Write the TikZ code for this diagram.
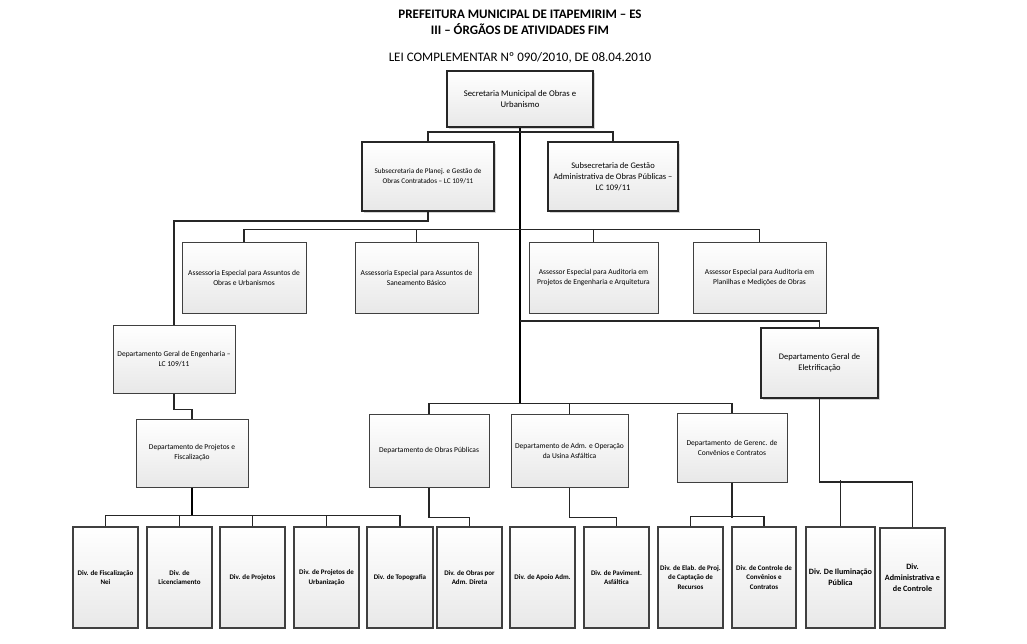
\documentclass[tikz,border=0pt]{standalone}
\usepackage{fontspec}
\setmainfont{Carlito}
\usetikzlibrary{shadows}
\tikzset{
  box/.style={draw=black!75, line width=1pt, top color=white, bottom color=black!9,
    inner sep=1pt, align=center, font=\fontsize{7.5}{10}\selectfont},
  bigbox/.style={box, draw=black!85, line width=2pt, drop shadow={shadow xshift=1.5pt, shadow yshift=-1.5pt, opacity=.35},
    font=\fontsize{8}{10.5}\selectfont},
  divbox/.style={box, line width=1.3pt, font=\bfseries\fontsize{7}{9.5}\selectfont},
  conn/.style={draw=black!85, line width=1.2pt},
  trunk/.style={draw=black, line width=2pt},
  title/.style={font=\bfseries\fontsize{13}{14}\selectfont, inner sep=0pt}
}
\begin{document}
\begin{tikzpicture}[x=1pt,y=-1pt]
\useasboundingbox (0,0) rectangle (1027,643);
% titles
\node[title] (t1) at (520,14) {PREFEITURA MUNICIPAL DE ITAPEMIRIM – ES};
\node[title] (t2) at (520,29) {III – ÓRGÃOS DE ATIVIDADES FIM};
\node[font=\fontsize{13}{15}\selectfont, inner sep=0pt] (t3) at (520,58) {LEI COMPLEMENTAR Nº 090/2010, DE 08.04.2010};

% top
\node[bigbox, minimum width=146pt, minimum height=56pt, font=\fontsize{8.7}{11}\selectfont] (sec) at (520,99) {Secretaria Municipal de Obras e\\Urbanismo};
\node[bigbox, minimum width=132pt, minimum height=69pt, font=\fontsize{7.2}{10}\selectfont] (subA) at (428,176.5) {Subsecretaria de Planej. e Gestão de\\Obras Contratados – LC 109/11};
\node[bigbox, minimum width=130pt, minimum height=69pt, font=\fontsize{8.5}{11}\selectfont] (subB) at (613,176.5) {Subsecretaria de Gestão\\Administrativa de Obras Públicas –\\LC 109/11};

% assessorias
\node[box, minimum width=124pt, minimum height=71pt] (asA) at (244,277.5) {Assessoria Especial para Assuntos de\\Obras e Urbanismos};
\node[box, minimum width=123pt, minimum height=71pt] (asB) at (416.5,277.5) {Assessoria Especial para Assuntos de\\Saneamento Básico};
\node[box, minimum width=129pt, minimum height=71pt] (asC) at (593.5,277.5) {Assessor Especial para Auditoria em\\Projetos de Engenharia e Arquitetura};
\node[box, minimum width=133pt, minimum height=71pt] (asD) at (759.5,277.5) {Assessor Especial para Auditoria em\\Planilhas e Medições de Obras};

% departments
\node[box, minimum width=122pt, minimum height=68pt] (dge) at (174,359) {Departamento Geral de Engenharia –\\LC 109/11};
\node[box, minimum width=112pt, minimum height=68pt] (dpf) at (192,453) {Departamento de Projetos e\\Fiscalização};
\node[box, minimum width=120pt, minimum height=73pt] (dop) at (429,450.5) {Departamento de Obras Públicas};
\node[box, minimum width=117pt, minimum height=73pt] (dau) at (569.5,450.5) {Departamento de Adm. e Operação\\da Usina Asfáltica};
\node[box, minimum width=110pt, minimum height=69pt] (dgc) at (732,447.5) {Departamento \ de Gerenc. de\\Convênios e Contratos};
\node[bigbox, minimum width=117pt, minimum height=70pt, font=\fontsize{8.5}{11}\selectfont] (dgel) at (819.5,363) {Departamento Geral de\\Eletrificação};

% divisions
\node[divbox, minimum width=65pt, minimum height=101pt] (d1) at (105.5,577.5) {Div. de Fiscalização\\Nei};
\node[divbox, minimum width=65pt, minimum height=101pt] (d2) at (179.5,577.5) {Div. de\\Licenciamento};
\node[divbox, minimum width=65pt, minimum height=101pt] (d3) at (252.5,577.5) {Div. de Projetos};
\node[divbox, minimum width=65pt, minimum height=101pt] (d4) at (326.5,577.5) {Div. de Projetos de\\Urbanização};
\node[divbox, minimum width=66pt, minimum height=101pt] (d5) at (400,577.5) {Div. de Topografia};
\node[divbox, minimum width=65pt, minimum height=101pt] (d6) at (469.5,577.5) {Div. de Obras por\\Adm. Direta};
\node[divbox, minimum width=65pt, minimum height=101pt] (d7) at (542.5,577.5) {Div. de Apoio Adm.};
\node[divbox, minimum width=65pt, minimum height=101pt] (d8) at (616.5,577.5) {Div. de Paviment.\\Asfáltica};
\node[divbox, minimum width=65pt, minimum height=101pt, inner sep=0pt] (d9) at (690.5,577.5) {Div. de Elab. de Proj.\\de Captação de\\Recursos};
\node[divbox, minimum width=64pt, minimum height=101pt] (d10) at (764,577.5) {Div. de Controle de\\Convênios e\\Contratos};
\node[divbox, minimum width=69pt, minimum height=101pt, inner sep=0pt, font=\bfseries\fontsize{8.1}{11}\selectfont] (d11) at (840.5,577.5) {Div. De Iluminação\\Pública};
\node[divbox, minimum width=65pt, minimum height=100pt, inner sep=0pt, font=\bfseries\fontsize{8.1}{11}\selectfont] (d12) at (912.5,578) {Div.\\Administrativa e\\de Controle};

% connectors
\coordinate (jD) at (520,404);
\coordinate (jE) at (520,321);
\draw[trunk] (sec.south) -- (jD);
\draw[conn] (subA.north) -- ++(0,-9) -| (subB.north);
\draw[conn] (subA.south) -- ++(0,9) -| (dge.north);
\draw[conn] (asA.north) -- ++(0,-12) -| (asD.north);
\draw[conn] (asB.north) -- ++(0,-12);
\draw[conn] (asC.north) -- ++(0,-12);
\draw[conn] (jE) -| (dgel.north);
\draw[conn] (dop.north) -- ++(0,-10) -| (dgc.north);
\draw[conn] (dau.north) -- ++(0,-10);
\draw[conn] (dge.south) -- ++(0,16) -| (dpf.north);
\coordinate (jP) at (192,516);
\draw[trunk] (dpf.south) -- (jP);
\draw[conn] (d1.north) -- ++(0,-11) -| (d5.north);
\draw[conn] (d2.north) -- ++(0,-11);
\draw[conn] (d3.north) -- ++(0,-11);
\draw[conn] (d4.north) -- ++(0,-11);
\draw[conn] (dop.south) -- ++(0,30) -| (d6.north);
\draw[conn] (dau.south) -- ++(0,30) -| (d8.north);
\draw[conn] (d9.north) -- ++(0,-10) -| (d10.north);
\draw[conn] (dgc.south) -- ++(0,35);
\draw[conn] (dgel.south) -- ++(0,83) -| (d12.north);
\draw[conn] (d11.north) -- ++(0,-46);
\end{tikzpicture}
\end{document}
